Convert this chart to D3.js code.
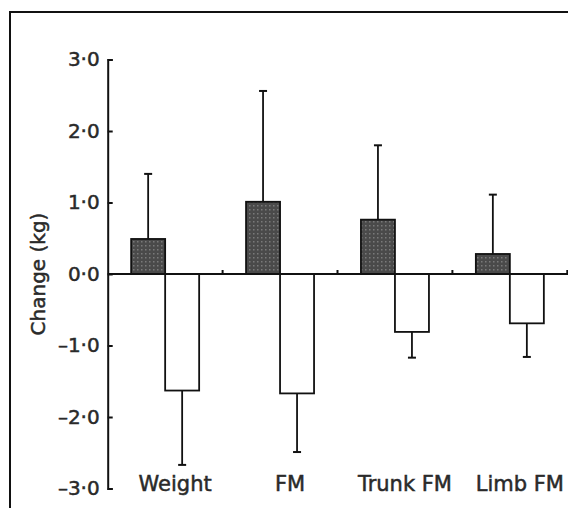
<!DOCTYPE html>
<html>
<head>
<meta charset="utf-8">
<script src="https://cdn.jsdelivr.net/npm/d3@7"></script>
<style>
  body { margin: 0; background: #fff; }
  svg { display: block; }
  .tick text, .lbl { font-family: "DejaVu Sans", sans-serif; fill: #2a2a2a; stroke: #2a2a2a; stroke-width: 0.5px; }
</style>
</head>
<body>
<div class="chart"></div>
<script>

var categories = ['Weight', 'FM', 'Trunk FM', 'Limb FM']
var groupA = [0.49, 1.01, 0.76, 0.28]       // dark bars
var groupAerr = [0.91, 1.55, 1.04, 0.83]
var groupB = [-1.63, -1.67, -0.81, -0.69]   // open bars
var groupBerr = [1.04, 0.82, 0.36, 0.47]
var yTicks = [-3, -2, -1, 0, 1, 2, 3]

var width = 568, height = 508

var svg = d3.select('.chart')
    .append('svg')
    .attr('width', width)
    .attr('height', height)

// dotted fill for the dark bars
var pat = svg.append('defs').append('pattern')
    .attr('id', 'dots')
    .attr('patternUnits', 'userSpaceOnUse')
    .attr('width', 4)
    .attr('height', 4)
pat.append('rect').attr('width', 4).attr('height', 4).attr('fill', '#4a4a4a')
pat.append('rect').attr('x', 1).attr('y', 1).attr('width', 1.5).attr('height', 1.5).attr('fill', '#7a7a7a')

// outer frame (cut off at right and bottom in the original)
svg.append('rect')
    .attr('x', 10).attr('y', 12)
    .attr('width', 700).attr('height', 700)
    .attr('fill', 'none')
    .attr('stroke', '#111')
    .attr('stroke-width', 2)

var y = d3.scaleLinear().domain([-3, 3]).range([488.5, 59.5])
var x = d3.scaleBand().domain(categories).range([107.7, 567.3]).padding(0)
var barW = 34

// y axis with inward ticks
var yAxis = d3.axisLeft(y)
    .tickValues(yTicks)
    .tickSizeInner(-5)
    .tickSizeOuter(-5)
    .tickPadding(8)
    .tickFormat(function(d) { return d.toFixed(1).replace('.', '·').replace('-', '–') })

var ga = svg.append('g')
    .attr('transform', 'translate(' + x.range()[0] + ',0)')
    .call(yAxis)
ga.selectAll('path, line').attr('stroke', '#111').attr('stroke-width', 2)
ga.selectAll('text').style('font-size', '20px')

svg.append('text')
    .attr('class', 'lbl')
    .attr('transform', 'translate(45,' + y(0) + ') rotate(-90)')
    .attr('text-anchor', 'middle')
    .style('font-size', '20px')
    .text('Change (kg)')

// error bars (up for dark, down for open)
function errBar(cx, from, to) {
    svg.append('line')
        .attr('x1', cx).attr('x2', cx)
        .attr('y1', y(from)).attr('y2', y(to))
        .attr('stroke', '#111').attr('stroke-width', 1.8)
    svg.append('line')
        .attr('x1', cx - 4).attr('x2', cx + 4)
        .attr('y1', y(to)).attr('y2', y(to))
        .attr('stroke', '#111').attr('stroke-width', 2)
}

categories.forEach(function(c, i) {
    var cx = x(c) + x.bandwidth() / 2
    errBar(cx - barW / 2, groupA[i], groupA[i] + groupAerr[i])
    errBar(cx + barW / 2, groupB[i], groupB[i] - groupBerr[i])
})

svg.selectAll('.barA')
    .data(groupA)
    .enter()
    .append('rect')
    .attr('class', 'barA')
    .attr('x', function(d, i) { return x(categories[i]) + x.bandwidth() / 2 - barW })
    .attr('y', function(d) { return y(d) })
    .attr('width', barW)
    .attr('height', function(d) { return y(0) - y(d) })
    .attr('fill', 'url(#dots)')
    .attr('stroke', '#111')
    .attr('stroke-width', 1.8)

svg.selectAll('.barB')
    .data(groupB)
    .enter()
    .append('rect')
    .attr('class', 'barB')
    .attr('x', function(d, i) { return x(categories[i]) + x.bandwidth() / 2 })
    .attr('y', y(0))
    .attr('width', barW)
    .attr('height', function(d) { return y(d) - y(0) })
    .attr('fill', '#fff')
    .attr('stroke', '#111')
    .attr('stroke-width', 1.8)

// zero line with small upward ticks between groups
svg.append('line')
    .attr('x1', x.range()[0]).attr('x2', width)
    .attr('y1', y(0)).attr('y2', y(0))
    .attr('stroke', '#111').attr('stroke-width', 2)

svg.selectAll('.sep')
    .data(categories)
    .enter()
    .append('line')
    .attr('x1', function(d) { return x(d) + x.step() }).attr('x2', function(d) { return x(d) + x.step() })
    .attr('y1', y(0)).attr('y2', y(0) - 4)
    .attr('stroke', '#111').attr('stroke-width', 2)

// category labels under the plot
svg.selectAll('.cat')
    .data(categories)
    .enter()
    .append('text')
    .attr('class', 'lbl')
    .attr('x', function(d) { return x(d) + x.bandwidth() / 2 + 10 })
    .attr('y', 491)
    .attr('text-anchor', 'middle')
    .style('font-size', '21px')
    .text(function(d) { return d })

</script>
</body>
</html>
